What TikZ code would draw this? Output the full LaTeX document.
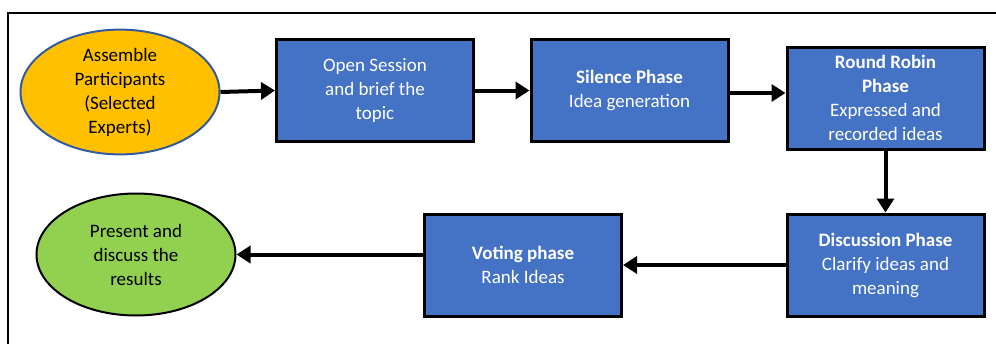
\documentclass[tikz,border=0pt]{standalone}
\usepackage{fontspec}
\setmainfont{Carlito}
\usetikzlibrary{shapes.geometric,arrows.meta}
\definecolor{boxblue}{HTML}{4472C4}
\definecolor{gold}{HTML}{FFC000}
\definecolor{leaf}{HTML}{92D050}
\tikzset{
  phase/.style={draw=black, line width=3pt, fill=boxblue, text=white, minimum width=197pt, minimum height=102pt, inner sep=0pt, align=center, font=\fontsize{19}{24}\selectfont},
  terminal/.style={ellipse, line width=2pt, minimum width=199pt, minimum height=122pt, inner sep=0pt, align=center, font=\fontsize{19}{24}\selectfont},
  flow/.style={line width=4pt, -{Triangle[length=14pt, width=17pt]}}
}
\begin{document}
\begin{tikzpicture}[x=1pt, y=-1pt]
        \useasboundingbox (0,0) rectangle (996,343);
        \draw[line width=2pt] (8,350) -- (8,13) -- (1000,13);
        % top row
        \node[terminal, draw=boxblue!80!black, fill=gold] (assemble) at (120,92) {Assemble\\Participants\\(Selected\\Experts)};
        \node[phase] (open) at (375,90.5) {Open Session\\and brief the\\topic};
        \node[phase] (silence) at (629.5,90.5) {\textbf{Silence Phase}\\Idea generation};
        \node[phase] (robin) at (885.5,98) {\textbf{Round Robin}\\\textbf{Phase}\\Expressed and\\recorded ideas};
        % bottom row
        \node[phase] (discuss) at (885.5,265) {\textbf{Discussion Phase}\\Clarify ideas and\\meaning};
        \node[phase] (vote) at (523,265) {\textbf{Voting phase}\\Rank Ideas};
        \node[terminal, draw=black, fill=leaf] (present) at (136,254.5) {Present and\\discuss the\\results};
        \draw[flow] (assemble.east) -- (open.west);
        \draw[flow] (open.east) -- (silence.west);
        \draw[flow] (silence.east |- 0,93) -- (robin.west |- 0,93);
        \draw[flow] (robin) -- (discuss);
        \draw[flow] (discuss) -- (vote);
        \draw[flow] (vote.west |- present) -- (present.east);
\end{tikzpicture}
\end{document}
